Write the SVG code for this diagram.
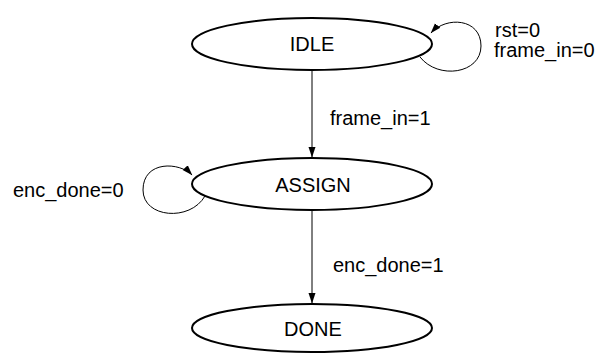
<svg xmlns="http://www.w3.org/2000/svg" width="600" height="357" viewBox="0 0 600 357">
<style>
.node ellipse{fill:#fff;stroke:#000;stroke-width:2}
text{font-family:"Liberation Sans",Arial,sans-serif;font-size:20px;fill:#000}
.c{text-anchor:middle}
.e{fill:none;stroke:#000;stroke-width:1}
</style>
<defs>
<marker id="ah" markerWidth="11" markerHeight="10" refX="10" refY="5" orient="auto" markerUnits="userSpaceOnUse">
<path d="M0,1.5 L10.5,5 L0,8.5 Z" fill="#000"/>
</marker>
</defs>
<rect width="600" height="357" fill="#fff"/>
<g id="connectors">
<path class="e" d="M312,70 L312,157" marker-end="url(#ah)"/>
<path class="e" d="M312,211 L312,303" marker-end="url(#ah)"/>
<path class="e" d="M420,57 C438,80 481,74 481,46 C481,18 446,16 431,33" marker-end="url(#ah)"/>
<path class="e" d="M205,196 C190,222 143,218 143,190 C143,160 180,162 192,175" marker-end="url(#ah)"/>
<text x="495" y="37">rst=0</text>
<text x="494" y="57">frame_in=0</text>
<text x="330" y="125">frame_in=1</text>
<text x="13" y="197">enc_done=0</text>
<text x="333" y="272">enc_done=1</text>
</g>
<g id="IDLE" class="node"><ellipse cx="312" cy="44" rx="120" ry="26"/><text class="c" x="312" y="51">IDLE</text></g>
<g id="ASSIGN" class="node"><ellipse cx="312" cy="184" rx="120" ry="26"/><text class="c" x="313" y="192">ASSIGN</text></g>
<g id="DONE" class="node"><ellipse cx="312" cy="328" rx="120" ry="24"/><text class="c" x="313" y="336">DONE</text></g>
</svg>
